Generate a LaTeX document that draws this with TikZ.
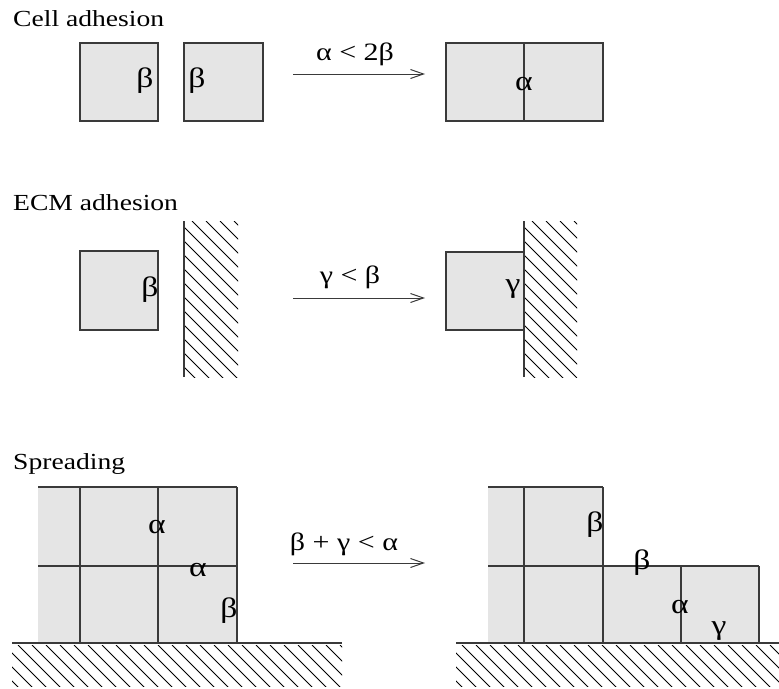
\documentclass[tikz,border=0pt]{standalone}
\usepackage{fontspec}
\setmainfont[FakeStretch=1.2]{Liberation Serif}
\usetikzlibrary{arrows.meta}
\definecolor{cellfill}{HTML}{E5E5E5}
\definecolor{edge}{HTML}{3A3A3A}
\tikzset{
  cellbox/.style={fill=cellfill, draw=edge, line width=1.2pt},
  cellfillonly/.style={fill=cellfill, draw=none},
  edgeline/.style={draw=edge, line width=1.2pt},
  hatchline/.style={draw=black, line width=1pt},
  title/.style={anchor=base west, inner sep=0pt, font=\fontsize{23}{26}\selectfont},
  greek/.style={inner sep=0pt, font=\fontsize{28}{30}\selectfont},
  rulelabel/.style={anchor=base, inner sep=0pt, font=\fontsize{25}{28}\selectfont},
  reaction/.style={draw=edge, line width=1pt, -{Straight Barb[length=13pt,width=9pt,line width=1pt]}}
}
\begin{document}
\begin{tikzpicture}[x=1pt,y=-1pt]
\useasboundingbox (0,0) rectangle (779,688);

% ---------- Cell adhesion ----------
\node[title] (t1) at (13,26) {Cell adhesion};
\draw[cellbox] (80,43) rectangle (158,121);
\draw[cellbox] (184,43) rectangle (263,121);
\node[greek] (b1) at (145,81) {β};
\node[greek] (b2) at (197,81) {β};
\coordinate (a1s) at (293,74);
\coordinate (a1e) at (425,74);
\draw[reaction] (a1s) -- (a1e);
\node[rulelabel] (r1) at (355,60) {α < 2β};
\draw[cellbox] (446,43) rectangle (603,121);
\draw[edgeline] (524,43) -- (524,121);
\node[greek] (a1) at (524,84) {α};

% ---------- ECM adhesion ----------
\node[title] (t2) at (13,210) {ECM adhesion};
\draw[cellbox] (80,251) rectangle (158,330);
\node[greek] (b3) at (150,290) {β};
\begin{scope}
  \clip (185,221) rectangle (238,377);
  \foreach \k in {0,14,...,252} \draw[hatchline] (\k+10,221) -- ++(180,180);
\end{scope}
\draw[edgeline] (184,221) -- (184,377);
\coordinate (a2s) at (293,298);
\coordinate (a2e) at (425,298);
\draw[reaction] (a2s) -- (a2e);
\node[rulelabel] (r2) at (350,283) {γ < β};
\draw[cellbox] (446,252) rectangle (524,330);
\begin{scope}
  \clip (525,221) rectangle (577,377);
  \foreach \k in {0,14,...,252} \draw[hatchline] (\k+350,221) -- ++(180,180);
\end{scope}
\draw[edgeline] (524,221) -- (524,377);
\node[greek] (g1) at (513,289) {γ};

% ---------- Spreading ----------
\node[title] (t3) at (13,469) {Spreading};
% left cluster
\fill[cellfillonly] (38,487) rectangle (237,643);
\draw[edgeline] (38,487) -- (237,487);
\draw[edgeline] (38,566) -- (237,566);
\draw[edgeline] (80,487) -- (80,643);
\draw[edgeline] (158,487) -- (158,643);
\draw[edgeline] (237,487) -- (237,643);
\node[greek] (a2) at (157,527) {α};
\node[greek] (a3) at (198,570) {α};
\node[greek] (b4) at (229,611) {β};
% left ground
\begin{scope}
  \clip (12,645) rectangle (342,686);
  \foreach \k in {0,14,...,392} \draw[hatchline] (\k-38,645) -- ++(50,50);
\end{scope}
\draw[edgeline] (12,643) -- (342,643);

\coordinate (a3s) at (293,563);
\coordinate (a3e) at (425,563);
\draw[reaction] (a3s) -- (a3e);
\node[rulelabel] (r3) at (344,550) {β + γ < α};

% right cluster
\fill[cellfillonly] (488,487) rectangle (603,643);
\fill[cellfillonly] (603,566) rectangle (759,643);
\draw[edgeline] (488,487) -- (603,487);
\draw[edgeline] (488,566) -- (759,566);
\draw[edgeline] (524,487) -- (524,643);
\draw[edgeline] (603,487) -- (603,643);
\draw[edgeline] (681,566) -- (681,643);
\draw[edgeline] (759,566) -- (759,643);
\node[greek] (b5) at (595,525) {β};
\node[greek] (b6) at (642,563) {β};
\node[greek] (a4) at (680,607) {α};
\node[greek] (g2) at (719,631) {γ};
% right ground
\begin{scope}
  \clip (456,645) rectangle (779,686);
  \foreach \k in {0,14,...,392} \draw[hatchline] (\k+406,645) -- ++(50,50);
\end{scope}
\draw[edgeline] (456,643) -- (779,643);
\end{tikzpicture}
\end{document}
